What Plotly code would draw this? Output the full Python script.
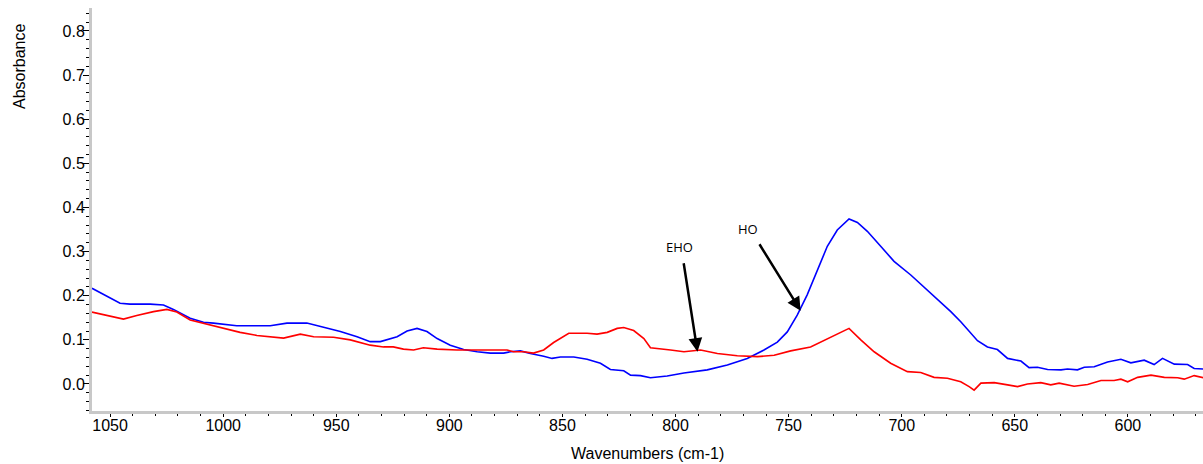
import plotly.graph_objects as go

# HO (blue) spectrum
ho_wn = [1058.0, 1050.0, 1045.6, 1041.2, 1032.3, 1026.4, 1022.0, 1014.6, 1008.7, 1004.3,
         994.0, 979.2, 976.2, 971.8, 963.0, 955.6, 948.2, 940.8, 935.0, 930.5,
         923.1, 918.7, 914.3, 909.9, 905.4, 899.6, 893.7, 887.7, 881.9, 876.0,
         873.0, 868.6, 864.2, 858.3, 854.6, 850.9, 845.0, 839.1, 833.2, 828.8,
         822.9, 819.9, 815.5, 811.1, 803.7, 796.3, 786.0, 777.1, 768.3, 760.9,
         755.0, 750.6, 746.2, 741.8, 737.3, 732.9, 728.5, 723.3, 719.6, 715.2,
         709.3, 703.4, 696.0, 691.6, 687.2, 682.7, 678.3, 673.9, 669.5, 666.5,
         662.1, 657.7, 653.2, 647.3, 643.7, 640.0, 635.5, 629.6, 626.7, 622.3,
         619.3, 614.9, 609.0, 603.1, 598.7, 592.8, 588.4, 584.7, 579.5, 573.6,
         570.7, 566.5]
ho_abs = [0.217, 0.195, 0.183, 0.181, 0.181, 0.179, 0.169, 0.149, 0.140, 0.138,
          0.132, 0.132, 0.134, 0.138, 0.138, 0.129, 0.119, 0.107, 0.096, 0.096,
          0.107, 0.120, 0.126, 0.119, 0.103, 0.088, 0.078, 0.073, 0.070, 0.070,
          0.073, 0.075, 0.069, 0.063, 0.058, 0.061, 0.061, 0.056, 0.047, 0.033,
          0.030, 0.020, 0.019, 0.014, 0.018, 0.025, 0.032, 0.043, 0.058, 0.077,
          0.095, 0.118, 0.156, 0.202, 0.259, 0.312, 0.349, 0.374, 0.366, 0.346,
          0.312, 0.278, 0.247, 0.226, 0.207, 0.184, 0.164, 0.141, 0.115, 0.098,
          0.084, 0.078, 0.058, 0.052, 0.037, 0.038, 0.033, 0.032, 0.034, 0.032,
          0.038, 0.039, 0.050, 0.056, 0.048, 0.054, 0.044, 0.058, 0.045, 0.044,
          0.035, 0.034]

# EHO (red) spectrum
eho_wn = [1058.0, 1050.0, 1044.1, 1038.2, 1030.8, 1024.9, 1020.5, 1014.6, 1007.2, 999.9,
          992.5, 985.1, 979.2, 973.3, 965.9, 960.0, 951.2, 943.8, 935.0, 929.1,
          924.8, 920.3, 915.8, 911.5, 905.4, 896.6, 886.3, 874.5, 871.6, 867.2,
          862.8, 858.3, 853.9, 850.9, 847.2, 839.1, 834.7, 830.2, 825.8, 822.9,
          818.5, 814.0, 811.1, 802.2, 796.3, 788.9, 781.5, 772.7, 763.8, 756.4,
          749.1, 740.3, 732.9, 727.0, 723.3, 718.1, 712.2, 704.9, 697.5, 691.6,
          685.7, 679.8, 673.9, 670.2, 668.0, 665.0, 659.1, 653.2, 648.8, 644.4,
          638.5, 634.1, 630.4, 623.8, 617.8, 611.9, 606.1, 603.1, 600.1, 595.7,
          589.8, 583.9, 578.0, 575.1, 570.7, 566.5]
eho_abs = [0.163, 0.153, 0.147, 0.155, 0.164, 0.169, 0.163, 0.145, 0.136, 0.126,
           0.117, 0.110, 0.107, 0.104, 0.113, 0.107, 0.106, 0.100, 0.088, 0.084,
           0.084, 0.079, 0.077, 0.082, 0.079, 0.077, 0.077, 0.077, 0.073, 0.073,
           0.070, 0.077, 0.094, 0.103, 0.115, 0.115, 0.113, 0.117, 0.126, 0.128,
           0.121, 0.103, 0.082, 0.077, 0.073, 0.077, 0.069, 0.064, 0.062, 0.065,
           0.075, 0.084, 0.103, 0.118, 0.126, 0.100, 0.073, 0.047, 0.028, 0.026,
           0.015, 0.013, 0.005, -0.006, -0.014, 0.002, 0.003, -0.002, -0.006, 0.000,
           0.003, -0.002, 0.002, -0.005, -0.001, 0.008, 0.008, 0.011, 0.005, 0.015,
           0.020, 0.015, 0.014, 0.011, 0.019, 0.014]

x_ticks = [1050, 1000, 950, 900, 850, 800, 750, 700, 650, 600]
y_ticks = [0.0, 0.1, 0.2, 0.3, 0.4, 0.5, 0.6, 0.7, 0.8]

# annotation anchors: (label, head_x, head_y, tail_x, tail_y, text_x, text_y)
arrow_notes = [
    ("EHO", 790.3, 0.073, 796.5, 0.277, 798.2, 0.311),
    ("HO", 744.7, 0.166, 763.3, 0.320, 768.1, 0.352),
]

FONT = "Liberation Sans, Arial, Helvetica, sans-serif"

W, H = 1203, 464
ML, MR, MT, MB = 92, 0, 8, 53
pw, ph = W - ML - MR, H - MT - MB

fig = go.Figure()
fig.add_trace(go.Scatter(x=ho_wn, y=ho_abs, mode="lines", name="HO",
                         line=dict(color="#0000ff", width=1.6)))
fig.add_trace(go.Scatter(x=eho_wn, y=eho_abs, mode="lines", name="EHO",
                         line=dict(color="#ff0000", width=1.6)))

annotations = []
for label, hx, hy, tx, ty, lx, ly in arrow_notes:
    annotations.append(dict(x=hx, y=hy, xref="x", yref="y", ax=tx, ay=ty,
                            axref="x", ayref="y", text="", showarrow=True,
                            arrowhead=2, arrowsize=1.1, arrowwidth=2.5,
                            arrowcolor="black", standoff=0, startstandoff=0))
    annotations.append(dict(x=lx, y=ly, xref="x", yref="y", text=label,
                            showarrow=False, xanchor="center", yanchor="middle",
                            font=dict(family="Open Sans, sans-serif", size=13, color="black")))

annotations.append(dict(x=(19 - ML) / pw, y=(H - MB - 66) / ph, xref="paper", yref="paper",
                        text="Absorbance", showarrow=False, textangle=-90,
                        xanchor="center", yanchor="middle",
                        font=dict(family=FONT, size=16, color="black")))
annotations.append(dict(x=0.5, y=(H - MB - 453) / ph, xref="paper", yref="paper",
                        text="Wavenumbers (cm-1)", showarrow=False,
                        xanchor="center", yanchor="middle",
                        font=dict(family=FONT, size=16, color="black")))

fig.update_layout(
    width=W, height=H,
    margin=dict(l=ML, r=MR, t=MT, b=MB, pad=0),
    paper_bgcolor="white", plot_bgcolor="white",
    showlegend=False,
    font=dict(family=FONT, size=16, color="black"),
    annotations=annotations,
)
fig.update_xaxes(range=[1058.0, 566.8], tickvals=x_ticks,
                 ticktext=[str(v) for v in x_ticks],
                 showgrid=False, zeroline=False, showline=True,
                 linecolor="#c8c8c8", linewidth=3,
                 ticks="outside", ticklen=3, tickwidth=1, tickcolor="black",
                 ticklabelstandoff=-5,
                 minor=dict(ticks="outside", dtick=10, ticklen=2, tickcolor="black", showgrid=False),
                 tickfont=dict(family=FONT, size=16, color="black"))
fig.update_yaxes(range=[-0.0612, 0.852], tickvals=y_ticks,
                 ticktext=["%.1f" % v for v in y_ticks],
                 showgrid=False, zeroline=False, showline=True,
                 linecolor="#c8c8c8", linewidth=3,
                 ticks="outside", ticklen=6, tickwidth=1, tickcolor="black",
                 ticklabelstandoff=-5,
                 minor=dict(ticks="outside", dtick=0.02, tick0=0, ticklen=3, tickcolor="black", showgrid=False),
                 tickfont=dict(family=FONT, size=16, color="black"))

fig.write_html("out.html", config={"displayModeBar": False},
               post_script="document.body.style.margin='0';document.body.style.overflow='hidden';")
